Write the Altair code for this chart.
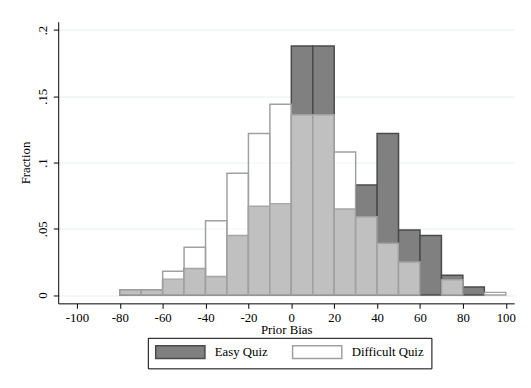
import altair as alt
import pandas as pd

bin_start = [-80, -70, -60, -50, -40, -30, -20, -10, 0, 10, 20, 30, 40, 50, 60, 70, 80, 90]
easy = [0.004, 0.004, 0.012, 0.020, 0.014, 0.045, 0.067, 0.069, 0.188, 0.188,
        0.065, 0.083, 0.122, 0.049, 0.045, 0.015, 0.006, 0.0]
difficult = [0.004, 0.004, 0.018, 0.036, 0.056, 0.092, 0.122, 0.144, 0.136, 0.136,
             0.108, 0.059, 0.039, 0.025, 0.0, 0.0115, 0.0, 0.002]
series = ["Easy Quiz", "Difficult Quiz"]
x_ticks = [-100, -80, -60, -40, -20, 0, 20, 40, 60, 80, 100]
y_ticks = [0, 0.05, 0.1, 0.15, 0.2]

rows = []
for s, vals in zip(series, [easy, difficult]):
    for b, v in zip(bin_start, vals):
        if v > 0:
            rows.append({"series": s, "start": b, "end": b + 10, "frac": v})
df = pd.DataFrame(rows)

FONT = "Liberation Serif"

x_enc = alt.X("start:Q",
              scale=alt.Scale(domain=[-108.7, 103.9], nice=False, zero=False),
              axis=alt.Axis(values=x_ticks, title="Prior Bias", grid=False,
                            labelExpr="'' + datum.value",
                            domainColor="black", tickColor="black", tickSize=5,
                            labelFontSize=13, titleFontSize=13, labelPadding=3,
                            titleY=31, titleBaseline="alphabetic",
                            labelColor="black", titleColor="black",
                            titleFontWeight="normal", labelFlush=False))
y_enc = alt.Y("frac:Q",
              scale=alt.Scale(domain=[-0.0063, 0.2063], nice=False, zero=False),
              axis=alt.Axis(values=y_ticks, title="Fraction", grid=True,
                            gridColor="#e6eeee", gridWidth=1,
                            labelExpr="datum.value == 0 ? '0' : replace(format(datum.value, '.2~f'), '0.', '.')",
                            labelAngle=270, labelAlign="center", labelBaseline="bottom",
                            domainColor="black", tickColor="black", tickSize=5,
                            labelFontSize=13, titleFontSize=13, labelPadding=4,
                            titlePadding=4, labelColor="black", titleColor="black",
                            titleFontWeight="normal", labelFlush=False))

fill_scale = alt.Scale(domain=series, range=["#808080", "#ffffff"])
stroke_scale = alt.Scale(domain=series, range=["#4a4a4a", "#a0a0a0"])
legend = alt.Legend(title=None)

base = alt.Chart(df)
easy_layer = base.transform_filter(alt.datum.series == "Easy Quiz").mark_bar(
    strokeWidth=1.5, opacity=1
).encode(
    x=x_enc, x2="end:Q", y=y_enc, y2=alt.datum(0),
    fill=alt.Fill("series:N", scale=fill_scale, legend=legend),
    stroke=alt.Stroke("series:N", scale=stroke_scale, legend=legend),
)
diff_layer = base.transform_filter(alt.datum.series == "Difficult Quiz").mark_bar(
    strokeWidth=1.5, fillOpacity=0.5
).encode(
    x=x_enc, x2="end:Q", y=y_enc, y2=alt.datum(0),
    fill=alt.Fill("series:N", scale=fill_scale, legend=legend),
    stroke=alt.Stroke("series:N", scale=stroke_scale, legend=legend),
)

chart = alt.layer(easy_layer, diff_layer).properties(
    width=463, height=286,
    autosize=alt.AutoSizeParams(type="none"),
    padding={"left": 51, "top": 11, "right": 9, "bottom": 83},
    background="white",
).configure(font=FONT).configure_view(stroke=None).configure_legend(
    orient="none", legendX=91, legendY=321, direction="horizontal",
    symbolType="M-1,-1L6.69,-1L6.69,1L-1,1Z", symbolSize=169,
    symbolStrokeWidth=1.5, labelFont=FONT, labelFontSize=13, labelColor="black",
    strokeColor="black", fillColor="white", padding=7, columnPadding=22,
    labelOffset=46, cornerRadius=0,
)

chart.save("out.html", embed_options={"renderer": "svg", "actions": False})
